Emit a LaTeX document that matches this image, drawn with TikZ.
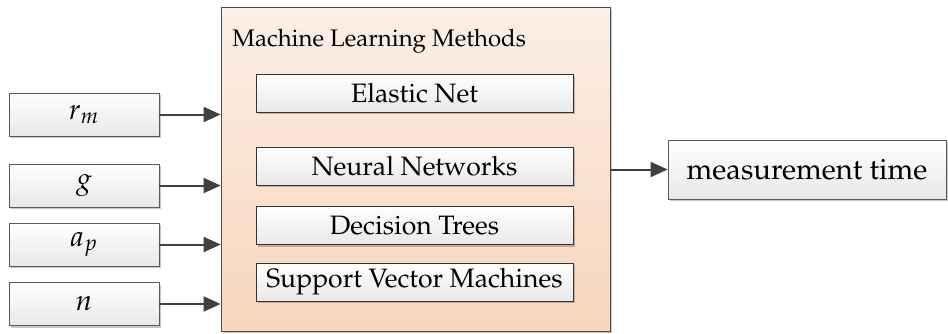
\documentclass[tikz,border=0pt]{standalone}
\usepackage[T1]{fontenc}
\usepackage{mathpazo}
\usetikzlibrary{arrows.meta,shadows}

\definecolor{peachtop}{HTML}{FCEFE6}
\definecolor{peachbot}{HTML}{F7D6BC}
\definecolor{linegray}{HTML}{404040}

\tikzset{
  softshadow/.style={drop shadow={shadow xshift=1.2pt, shadow yshift=-1.2pt, opacity=0.22, fill=black}},
  inbox/.style={draw=black!65, top color=white, bottom color=black!9, inner sep=0pt,
    minimum width=75pt, minimum height=21.5pt, softshadow, font=\fontsize{14.5}{17}\selectfont},
  methodbox/.style={draw=black!80, top color=white, bottom color=black!9, inner sep=0pt,
    minimum width=158.5pt, minimum height=19pt, softshadow, font=\fontsize{13.3}{16}\selectfont},
  mainbox/.style={draw=black!70, top color=peachtop, bottom color=peachbot, inner sep=0pt,
    minimum width=194.5pt, minimum height=162pt, softshadow},
  outbox/.style={draw=black!65, top color=white, bottom color=black!9, inner sep=0pt,
    minimum width=139pt, minimum height=29.5pt, softshadow, font=\fontsize{14.6}{17}\selectfont},
  feed/.style={draw=linegray, line width=1pt, -{Triangle[length=8.5pt,width=7.5pt]}},
}

\begin{document}
\begin{tikzpicture}[x=0.5pt, y=-0.5pt]
  \useasboundingbox (0,0) rectangle (948,333);
  % central block with the methods
  \node (mlm) [mainbox] at (415.5,169) {};
  \node (mlmtitle) [anchor=base west, inner sep=0pt, font=\fontsize{12}{14}\selectfont] at (232,46) {Machine Learning Methods};
  \node (en) [methodbox] at (414.5,93) {Elastic Net};
  \node (nn) [methodbox] at (414.5,166) {Neural Networks};
  \node (dt) [methodbox] at (414.5,225.5) {Decision Trees};
  \node (svm) [methodbox] at (414.5,282) {Support Vector Machines};
  % inputs
  \node (rm) [inbox] at (84,114.5) {$r_m$};
  \node (g) [inbox] at (84,185.5) {$g$};
  \node (ap) [inbox] at (84,244.5) {$a_p$};
  \node (n) [inbox] at (84,304) {$n$};
  % output
  \node (meas) [outbox] at (807,169.5) {measurement time};
  % connectors
  \foreach \src in {rm,g,ap,n}
    \draw [feed] (\src.east) -- (\src.east -| mlm.west);
  \draw [feed] (meas.west -| mlm.east) -- (meas.west);
\end{tikzpicture}
\end{document}
